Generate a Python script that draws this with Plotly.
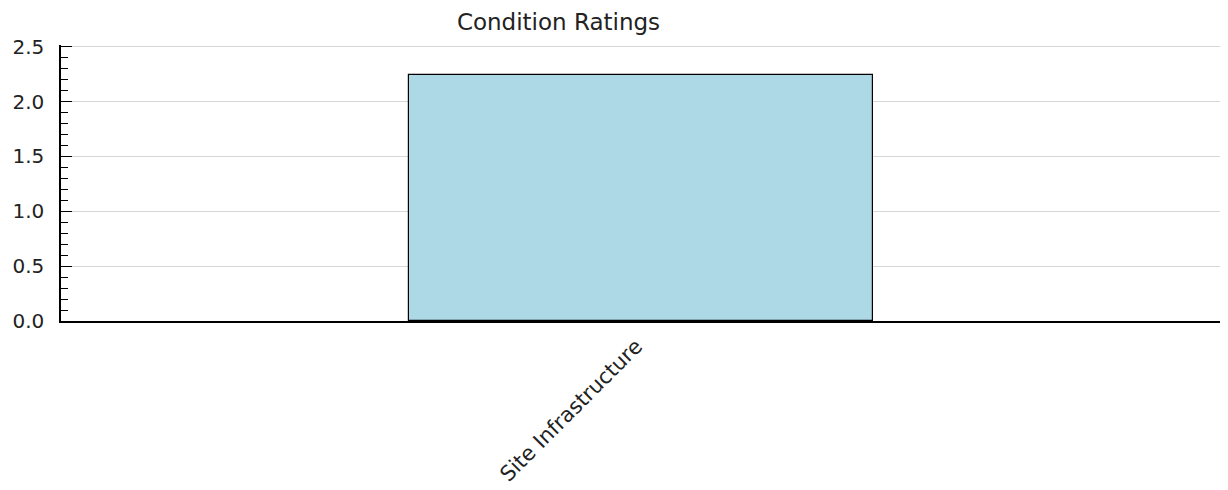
import plotly.graph_objects as go

categories = ["Site Infrastructure"]
values = [2.24]
y_tick_vals = [0.0, 0.5, 1.0, 1.5, 2.0, 2.5]
y_tick_text = ["0.0", "0.5", "1.0", "1.5", "2.0", "2.5"]
title_text = "Condition Ratings"

positions = list(range(len(categories)))

# page body has a default 8px margin; the figure is sized to compensate
W, H = 1220, 482

fig = go.Figure()
fig.add_trace(go.Bar(
    x=positions,
    y=values,
    width=0.8,
    marker=dict(color="#add8e6", line=dict(color="black", width=1.2)),
    showlegend=False,
))

font_family = "DejaVu Sans"

fig.update_layout(
    width=W,
    height=H,
    paper_bgcolor="white",
    plot_bgcolor="white",
    margin=dict(l=53, r=5, t=37, b=169, autoexpand=False),
    title=dict(
        text=title_text,
        x=550.5 / W,
        xref="container",
        xanchor="center",
        y=1 - 14 / H,
        yref="container",
        yanchor="middle",
        font=dict(family=font_family, size=23, color="#222222"),
    ),
    font=dict(family=font_family, color="#222222"),
    bargap=0,
)

fig.update_xaxes(
    range=[-1, 1.003],
    tickmode="array",
    tickvals=positions + [1],
    ticktext=categories + [""],
    tickangle=-45,
    ticks="inside",
    ticklen=11,
    tickwidth=1.5,
    tickcolor="black",
    showline=True,
    linecolor="black",
    linewidth=1.5,
    showgrid=False,
    zeroline=False,
    layer="below traces",
    ticklabelshift=-5,
    ticklabelstandoff=3,
    tickfont=dict(family=font_family, size=21, color="#222222"),
    automargin=False,
)

fig.update_yaxes(
    range=[0, 2.515],
    tickmode="array",
    tickvals=y_tick_vals,
    ticktext=y_tick_text,
    ticks="inside",
    ticklen=11,
    tickwidth=1.2,
    tickcolor="black",
    showline=True,
    linecolor="black",
    linewidth=1.5,
    showgrid=True,
    gridcolor="#d6d6d6",
    gridwidth=1.4,
    zeroline=False,
    ticklabelstandoff=11,
    minor=dict(
        dtick=0.1,
        tick0=0,
        ticks="inside",
        ticklen=7,
        tickwidth=1.2,
        tickcolor="black",
        showgrid=False,
    ),
    tickfont=dict(family=font_family, size=20, color="#222222"),
    automargin=False,
)

fig.write_html("out.html")
